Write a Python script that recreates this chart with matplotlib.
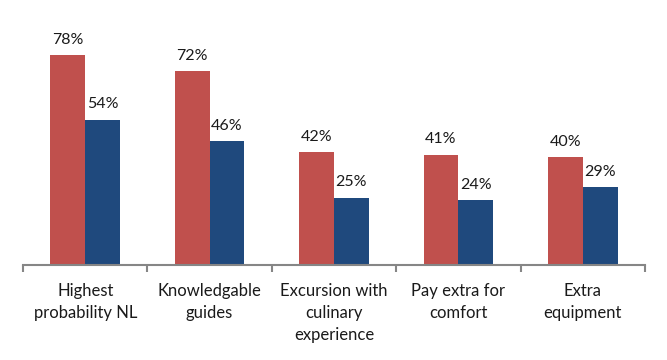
import numpy as np
import matplotlib
matplotlib.use("Agg")
import matplotlib.pyplot as plt

categories = [
    "Highest\nprobability NL",
    "Knowledgable\nguides",
    "Excursion with\nculinary\nexperience",
    "Pay extra for\ncomfort",
    "Extra\nequipment",
]
red_values = [78, 72, 42, 41, 40]
blue_values = [54, 46, 25, 24, 29]

RED = "#C0504D"
BLUE = "#1F497D"
GREY = "#868686"

plt.rcParams["font.family"] = ["Lato", "DejaVu Sans"]

fig = plt.figure(figsize=(6.67, 3.6), dpi=100)
ax = fig.add_axes([23 / 667, 95 / 360, 622 / 667, 242 / 360])

x = np.arange(len(categories))
width = 0.28
bars_r = ax.bar(x - width / 2, red_values, width, color=RED)
bars_b = ax.bar(x + width / 2, blue_values, width, color=BLUE)

for bars in (bars_r, bars_b):
    ax.bar_label(bars, labels=[f"{v}%" for v in bars.datavalues],
                 padding=6, fontsize=11.5, color="#1a1a1a")

ax.set_xlim(-0.5, len(categories) - 0.5)
ax.set_ylim(0, 90)
ax.set_yticks([])

for side in ("top", "right", "left"):
    ax.spines[side].set_visible(False)
ax.spines["bottom"].set_color(GREY)
ax.spines["bottom"].set_linewidth(1.5)

# tick marks sit between categories, labels centred under each group
ax.set_xticks(np.arange(len(categories) + 1) - 0.5)
ax.set_xticklabels([])
ax.tick_params(axis="x", length=5, width=1.5, color=GREY)
for i, label in enumerate(categories):
    ax.annotate(label, (x[i], 0), xytext=(0, -13), textcoords="offset points",
                ha="center", va="top", fontsize=12, linespacing=1.45,
                color="#1a1a1a", annotation_clip=False)

fig.savefig("out.png", dpi=100)
